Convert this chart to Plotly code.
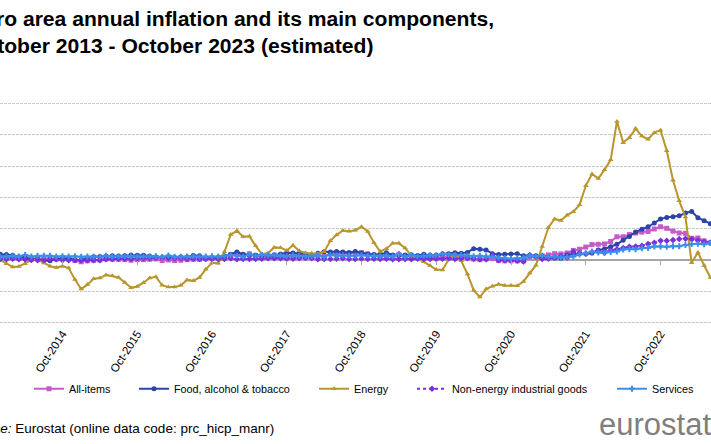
import plotly.graph_objects as go
import pandas as pd

# ---------------- data ----------------
months = [d.strftime("%b-%Y") for d in pd.date_range("2013-10-01", "2023-10-01", freq="MS")]
tick_labels = ["Oct-2014", "Oct-2015", "Oct-2016", "Oct-2017", "Oct-2018",
               "Oct-2019", "Oct-2020", "Oct-2021", "Oct-2022"]

all_items = [0.7, 0.9, 0.8,
             0.8, 0.7, 0.5, 0.7, 0.5, 0.5, 0.4, 0.4, 0.3, 0.4, 0.3, -0.2,
             -0.6, -0.3, -0.1, 0.0, 0.3, 0.2, 0.2, 0.1, -0.1, 0.1, 0.1, 0.2,
             0.3, -0.2, 0.0, -0.2, -0.1, 0.1, 0.2, 0.2, 0.4, 0.5, 0.6, 1.1,
             1.7, 2.0, 1.5, 1.9, 1.4, 1.3, 1.3, 1.5, 1.5, 1.4, 1.5, 1.4,
             1.3, 1.1, 1.4, 1.2, 2.0, 2.0, 2.1, 2.0, 2.1, 2.3, 1.9, 1.5,
             1.4, 1.5, 1.4, 1.7, 1.2, 1.3, 1.0, 1.0, 0.8, 0.7, 1.0, 1.3,
             1.4, 1.2, 0.7, 0.3, 0.1, 0.3, 0.4, -0.2, -0.3, -0.3, -0.3, -0.3,
             0.9, 0.9, 1.3, 1.6, 2.0, 1.9, 2.2, 3.0, 3.4, 4.1, 4.9, 5.0,
             5.1, 5.9, 7.4, 7.4, 8.1, 8.6, 8.9, 9.1, 9.9, 10.6, 10.1, 9.2,
             8.6, 8.5, 6.9, 7.0, 6.1, 5.5, 5.3, 5.2, 4.3, 2.9]

food = [2.0, 1.6, 1.8,
        1.7, 1.5, 1.0, 0.7, 0.1, 0.2, -0.3, -0.3, 0.3, 0.5, 0.5, 0.0,
        0.0, 0.5, 1.0, 1.1, 1.2, 1.3, 1.2, 1.3, 1.6, 1.5, 1.5, 1.2,
        1.0, 0.8, 1.0, 0.8, 0.9, 0.9, 1.4, 1.3, 0.7, 0.7, 0.8, 1.2,
        1.8, 2.5, 1.8, 1.5, 1.5, 1.4, 1.4, 1.4, 1.9, 2.3, 2.2, 2.1,
        1.9, 1.0, 2.1, 2.6, 2.5, 2.7, 2.5, 2.4, 2.7, 2.2, 1.9, 1.7,
        1.8, 2.3, 1.6, 1.5, 1.6, 1.6, 1.4, 1.8, 1.5, 1.5, 1.9, 2.0,
        2.3, 2.1, 2.4, 3.6, 3.4, 3.2, 2.0, 1.7, 1.8, 1.9, 2.0, 1.3,
        1.5, 1.3, 1.1, 0.7, 0.6, 0.5, 1.6, 2.0, 2.0, 1.9, 2.2, 3.2,
        3.5, 4.2, 5.0, 6.3, 7.5, 8.9, 9.8, 10.6, 11.8, 13.1, 13.6, 13.8,
        14.1, 15.0, 15.5, 13.5, 12.5, 11.6, 10.8, 9.7, 8.8, 7.5]

energy = [-1.7, -1.1, 0.0,
          -1.2, -2.3, -2.1, -1.2, -0.1, 0.1, -1.0, -2.0, -2.4, -2.0, -2.6, -6.3,
          -9.3, -7.9, -6.0, -5.8, -4.8, -5.1, -5.6, -7.2, -8.9, -8.5, -7.3, -5.8,
          -5.4, -8.1, -8.7, -8.7, -8.1, -6.4, -6.7, -5.6, -3.0, -0.9, -1.1, 2.6,
          8.1, 9.3, 7.4, 7.6, 4.5, 1.9, 2.2, 4.0, 3.9, 3.0, 4.7, 2.9,
          2.2, 2.1, 2.0, 2.6, 6.1, 8.0, 9.4, 9.2, 9.5, 10.6, 9.1, 5.5,
          2.7, 3.6, 5.3, 5.3, 3.8, 1.3, 0.5, -0.6, -1.8, -3.1, -3.2, 0.2,
          1.9, -0.3, -4.5, -9.7, -11.9, -9.3, -8.4, -7.8, -8.2, -8.2, -8.3, -6.9,
          -4.2, -1.7, 4.3, 10.4, 13.1, 12.6, 14.3, 15.4, 17.6, 23.7, 27.5, 26.0,
          28.8, 32.0, 44.3, 37.5, 39.1, 42.0, 39.6, 38.6, 40.7, 41.5, 34.9, 25.5,
          18.9, 13.7, -0.9, 2.4, -1.8, -5.6, -6.1, -3.3, -4.6, -11.2]

neig = [0.3, 0.3, 0.3,
        0.2, 0.4, 0.2, 0.1, 0.0, -0.1, 0.0, 0.3, 0.2, -0.1, -0.1, 0.0,
        -0.1, -0.1, -0.1, -0.1, 0.2, 0.3, 0.4, 0.4, 0.3, 0.5, 0.5, 0.5,
        0.7, 0.8, 0.5, 0.5, 0.5, 0.4, 0.4, 0.3, 0.3, 0.3, 0.3, 0.3,
        0.5, 0.2, 0.3, 0.3, 0.3, 0.4, 0.5, 0.5, 0.5, 0.4, 0.4, 0.5,
        0.6, 0.5, 0.2, 0.3, 0.3, 0.4, 0.5, 0.3, 0.3, 0.4, 0.3, 0.4,
        0.3, 0.4, 0.2, 0.2, 0.3, 0.2, 0.4, 0.3, 0.3, 0.3, 0.4, 0.5,
        0.3, 0.5, 0.5, 0.4, 0.2, 0.2, 1.6, -0.1, -0.1, -0.1, -0.3, -0.5,
        1.5, 1.0, 0.3, 0.4, 0.7, 1.2, 0.7, 2.6, 2.1, 2.0, 2.4, 2.9,
        2.3, 3.1, 3.4, 3.8, 4.2, 4.3, 4.5, 5.1, 5.5, 6.1, 6.1, 6.4,
        6.7, 6.8, 6.6, 6.2, 5.8, 5.5, 5.0, 4.7, 4.1, 3.5]

services = [1.2, 1.4, 1.0,
            1.2, 1.3, 1.1, 1.6, 1.1, 1.3, 1.3, 1.3, 1.1, 1.2, 1.1, 1.2,
            1.0, 1.1, 1.0, 1.0, 1.3, 1.1, 1.2, 1.2, 1.2, 1.1, 1.1, 1.1,
            1.2, 0.9, 1.4, 1.0, 1.0, 1.1, 1.2, 1.1, 1.1, 1.2, 1.1, 1.3,
            1.6, 1.3, 1.0, 1.8, 1.3, 1.6, 1.5, 1.6, 1.5, 1.2, 1.5, 1.3,
            1.2, 1.2, 1.5, 1.0, 1.6, 1.3, 1.4, 1.3, 1.3, 1.5, 1.3, 1.3,
            1.2, 1.4, 1.1, 1.9, 1.0, 1.6, 1.2, 1.3, 1.5, 1.5, 1.9, 1.8,
            1.5, 1.6, 1.3, 1.2, 1.3, 1.2, 0.9, 0.7, 0.5, 0.4, 0.6, 0.7,
            1.4, 1.2, 1.3, 0.9, 1.1, 0.7, 0.9, 1.1, 1.7, 2.1, 2.7, 2.4,
            2.3, 2.5, 2.7, 3.3, 3.5, 3.4, 3.7, 3.8, 4.3, 4.3, 4.2, 4.4,
            4.4, 4.8, 5.1, 5.2, 5.0, 5.4, 5.6, 5.5, 4.7, 4.6]

series_names = ["All-items", "Food, alcohol & tobacco", "Energy",
                "Non-energy industrial goods", "Services"]

# ---------------- layout helpers ----------------
W, H = 711, 444
Y_MIN, Y_MAX = -20, 50
PADY = 0.5                      # keep edge gridlines away from the plot border
ML, MR, MT, MB = 0, 0, 102.45, 120.45
PW, PH = W - ML - MR, H - MT - MB
X_RANGE = [1.97, 116.1]


def px_x(px):
    return (px - ML) / PW


def px_y(py):
    return (H - MB - py) / PH


FONT = "Liberation Sans, Arial, sans-serif"

x = list(range(len(months)))
tickvals = [months.index(t) for t in tick_labels]

styles = [
    dict(color="#C55BC9", symbol="square", size=5, dash="solid"),
    dict(color="#2C44A8", symbol="circle", size=5, dash="solid"),
    dict(color="#B8962C", symbol="triangle-up", size=5, dash="solid"),
    dict(color="#7A2EE0", symbol="diamond", size=5, dash="dot"),
    dict(color="#3C8EEA", symbol="cross", size=5, dash="solid"),
]
values = [all_items, food, energy, neig, services]
legend_px = [34, 139, 319, 417, 617]

fig = go.Figure()
for i, (name, vals, st) in enumerate(zip(series_names, values, styles)):
    fig.add_trace(go.Scatter(
        x=x, y=vals, name=name, mode="lines+markers",
        line=dict(color=st["color"], width=2, dash=st["dash"]),
        marker=dict(color=st["color"], symbol=st["symbol"], size=st["size"]),
        legend="legend" if i == 0 else f"legend{i+1}",
        cliponaxis=True,
    ))

# helper invisible trace for the axis that carries tick marks on the zero line
fig.add_trace(go.Scatter(x=x, y=[None] * len(x), xaxis="x2", showlegend=False,
                         hoverinfo="skip", mode="lines"))

legend_common = dict(orientation="h", yanchor="middle", xanchor="left",
                     bgcolor="rgba(0,0,0,0)",
                     font=dict(family=FONT, size=10.8, color="#000000"))
layout_legends = {}
for i, lp in enumerate(legend_px):
    key = "legend" if i == 0 else f"legend{i+1}"
    layout_legends[key] = dict(legend_common, x=px_x(lp - 5), y=px_y(388))

y_range = [Y_MIN - PADY, Y_MAX + PADY]
fig.update_layout(
    width=W, height=H,
    margin=dict(l=ML, r=MR, t=MT, b=MB, pad=0, autoexpand=False),
    paper_bgcolor="white", plot_bgcolor="white",
    font=dict(family=FONT, color="#000000"),
    showlegend=True,
    xaxis=dict(range=X_RANGE, tickmode="array", tickvals=tickvals, ticktext=tick_labels,
               tickangle=-57, tickfont=dict(family=FONT, size=11.5, color="#000000"),
               showgrid=False, zeroline=False, showline=False, ticks="", ticklen=0,
               automargin=False),
    xaxis2=dict(range=X_RANGE, overlaying="x", anchor="free",
                position=(0 - y_range[0]) / (y_range[1] - y_range[0]),
                tickmode="array", tickvals=tickvals, showticklabels=False,
                ticks="outside", ticklen=4, tickcolor="#A6A6A6", tickwidth=1,
                showgrid=False, zeroline=False, showline=False, automargin=False),
    yaxis=dict(range=y_range, tickmode="linear", tick0=0, dtick=10, showticklabels=False,
               showgrid=True, gridcolor="#C8C8C8", gridwidth=1, griddash="3px,1px",
               zeroline=True, zerolinecolor="#A6A6A6", zerolinewidth=1.5,
               showline=False, ticks="", automargin=False),
    **layout_legends,
)

# title: right edge pinned, left part runs off the page as in the reference
fig.add_annotation(
    xref="paper", yref="paper", x=px_x(496), y=px_y(6), xanchor="right", yanchor="top",
    align="left", showarrow=False,
    text="<b>Euro area annual inflation and its main components,<br>"
         "October 2013 - October 2023 (estimated)</b>",
    font=dict(family=FONT, size=21.1, color="#000000"),
)
fig.add_annotation(
    xref="paper", yref="paper", x=px_x(276), y=px_y(428), xanchor="right", yanchor="middle",
    align="left", showarrow=False,
    text="<i>Source:</i> Eurostat (online data code: prc_hicp_manr)",
    font=dict(family=FONT, size=13.5, color="#000000"),
)
fig.add_annotation(
    xref="paper", yref="paper", x=px_x(597), y=px_y(424), xanchor="left", yanchor="middle",
    showarrow=False, text="eurostat",
    font=dict(family=FONT, size=31, color="#7F7F7F"),
)

fig.write_html("out.html", config={"displayModeBar": False},
               post_script="document.body.style.margin='0';")
